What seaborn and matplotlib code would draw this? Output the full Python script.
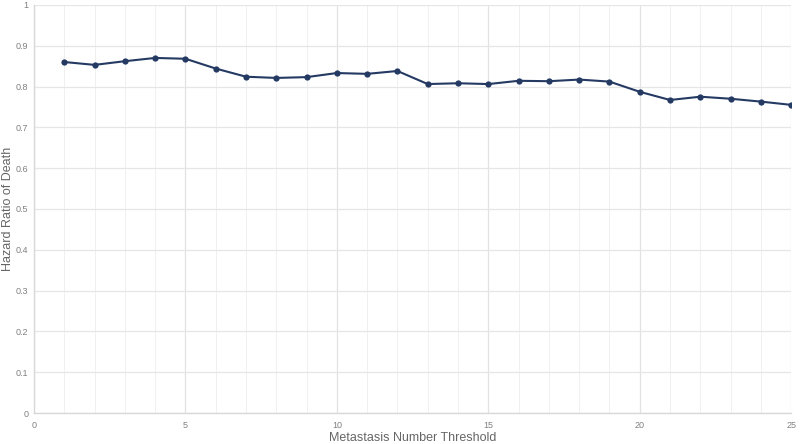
import matplotlib
matplotlib.use("Agg")
import matplotlib.pyplot as plt
import seaborn as sns
import pandas as pd
from matplotlib.ticker import MultipleLocator

thresholds = list(range(1, 26))
hazard_ratio = [0.860, 0.853, 0.862, 0.870, 0.868, 0.844, 0.824, 0.821, 0.823, 0.833,
                0.831, 0.838, 0.806, 0.808, 0.806, 0.814, 0.813, 0.817, 0.812, 0.787,
                0.767, 0.775, 0.770, 0.763, 0.755]
y_tick_labels = ["0", "0.1", "0.2", "0.3", "0.4", "0.5", "0.6", "0.7", "0.8", "0.9", "1"]

df = pd.DataFrame({"x": thresholds, "y": hazard_ratio})

sns.set_theme(style="white")
plt.rcParams['font.family'] = ['Liberation Sans', 'DejaVu Sans']

fig = plt.figure(figsize=(8, 4.44), dpi=100)
ax = fig.add_axes([0.0425, 0.0698, 0.9465, 0.9192])

sns.lineplot(data=df, x="x", y="y", ax=ax, color="#253a63", linewidth=1.5,
             marker="o", markersize=4.5, markeredgewidth=0, zorder=3)

ax.set_xlim(0, 25)
ax.set_ylim(0, 1)
ax.xaxis.set_major_locator(MultipleLocator(5))
ax.xaxis.set_minor_locator(MultipleLocator(1))
ax.set_yticks([i / 10 for i in range(11)])
ax.set_yticklabels(y_tick_labels)
ax.grid(which="major", axis="x", color="#e2e2e2", linewidth=0.9)
ax.grid(which="minor", axis="x", color="#f0f0f0", linewidth=0.7)
ax.grid(which="major", axis="y", color="#e6e6e6", linewidth=0.9)

for s in ["top", "right"]:
    ax.spines[s].set_visible(False)
for s in ["left", "bottom"]:
    ax.spines[s].set_color("#d8d8d8")
    ax.spines[s].set_linewidth(1)

ax.tick_params(axis="both", which="both", length=0, labelsize=6.5, colors="#808080")
ax.tick_params(axis="x", pad=6)
ax.tick_params(axis="y", pad=4)
ax.set_xlabel("Metastasis Number Threshold", fontsize=9, color="#666666", labelpad=1)
ax.set_ylabel("Hazard Ratio of Death", fontsize=9, color="#666666")
ax.yaxis.set_label_coords(-0.027, 0.5)

fig.savefig("out.png", dpi=100)
